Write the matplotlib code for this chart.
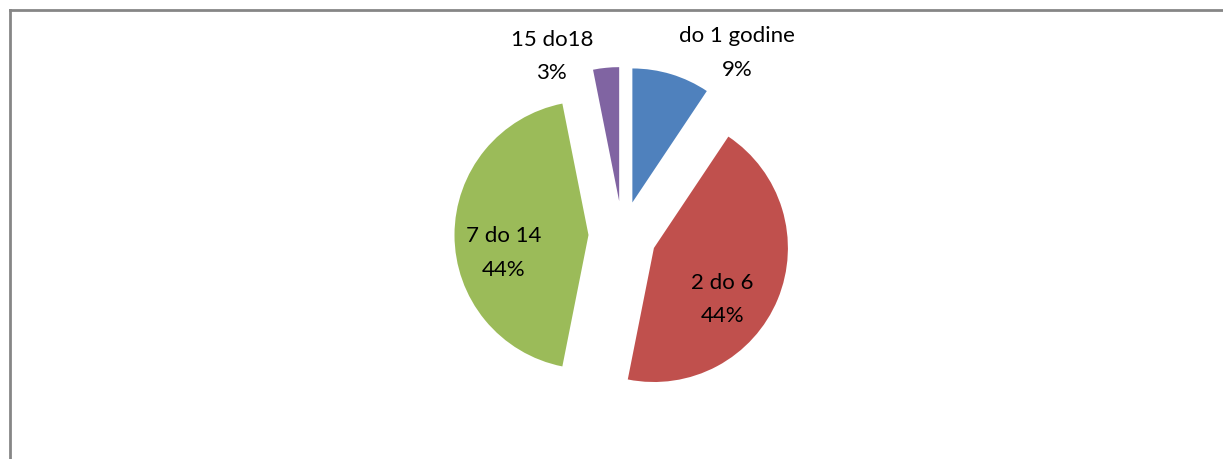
import numpy as np
import matplotlib
matplotlib.use("Agg")
import matplotlib.pyplot as plt
from matplotlib.lines import Line2D

############################################################
#  data
############################################################
categories = ["do 1 godine", "2 do 6", "7 do 14", "15 do18"]
counts = [3, 14, 14, 1]
colors = ["#4F81BD", "#C0504D", "#9BBB59", "#8064A2"]

# label placement per slice: (angle clockwise from top in deg, distance in radii)
label_angle = [35, 127, 258, 335]
label_dist = [1.36, 0.64, 0.65, 1.19]

W, H = 1223, 459
R = 134
CENTER = (622.5, H - 235)
EXPLODE = 34

plt.rcParams['font.family'] = ['Lato', 'DejaVu Sans']

fig = plt.figure(figsize=(W / 100, H / 100), dpi=100)
ax = fig.add_axes([0, 0, 1, 1])

wedges, _ = ax.pie(counts, colors=colors, startangle=90, counterclock=False,
                   radius=R, center=CENTER, explode=[EXPLODE] * len(counts),
                   wedgeprops=dict(linewidth=0))

ax.set_xlim(0, W)
ax.set_ylim(0, H)
ax.set_aspect('equal')
ax.axis('off')

total = float(sum(counts))
for w, cat, n, a, d in zip(wedges, categories, counts, label_angle, label_dist):
    cx, cy = w.center
    rad = np.deg2rad(a)
    tx = cx + d * R * np.sin(rad)
    ty = cy + d * R * np.cos(rad)
    pct = "{:.0f}%".format(100 * n / total)
    ax.text(tx, ty, cat + "\n" + pct, ha='center', va='center',
            fontsize=16, linespacing=1.85, color='black')

#########################
# chart frame
#########################
fig.add_artist(Line2D([9.5 / W, 9.5 / W], [0, 1 - 10 / H], transform=fig.transFigure,
                      color='#868686', linewidth=2))
fig.add_artist(Line2D([9.5 / W, 1], [1 - 10 / H, 1 - 10 / H], transform=fig.transFigure,
                      color='#868686', linewidth=2))

fig.savefig("out.png", dpi=100, facecolor='white')
